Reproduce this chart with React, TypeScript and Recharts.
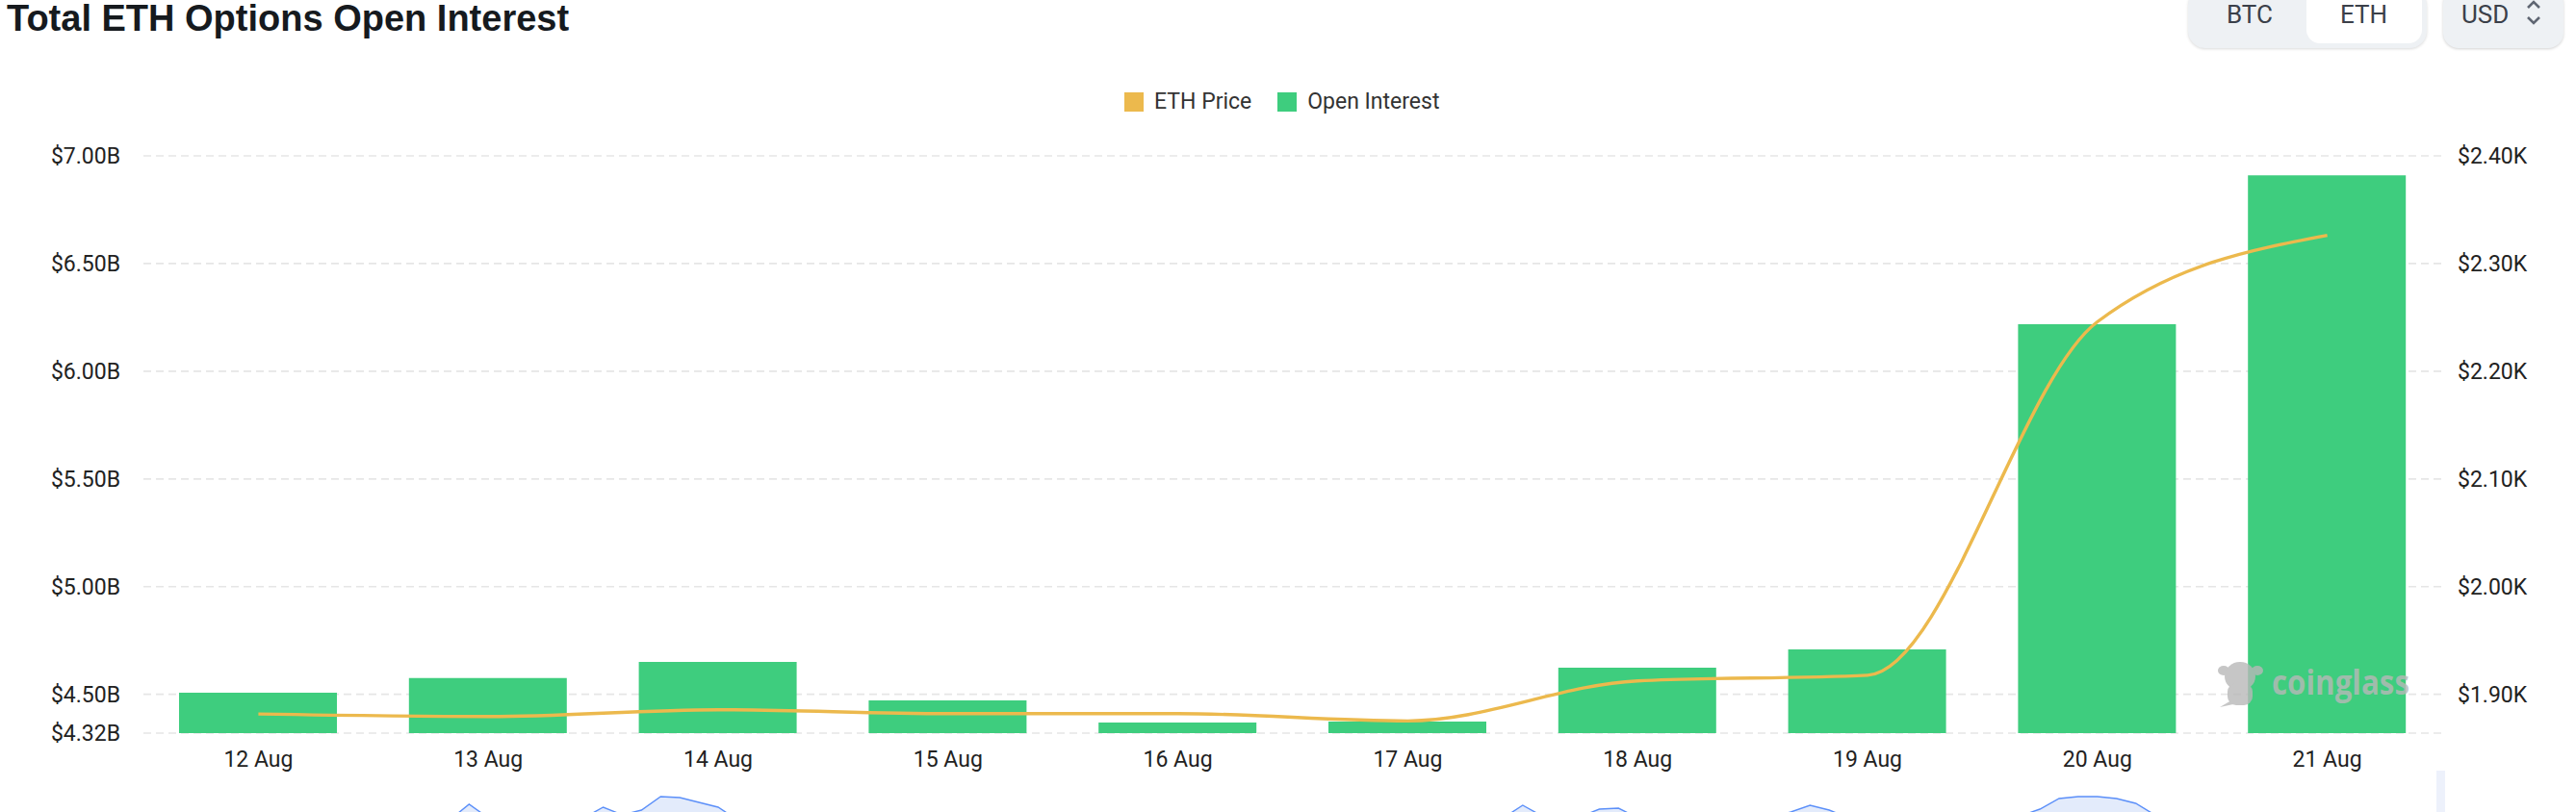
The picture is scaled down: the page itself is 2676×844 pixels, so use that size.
import { ComposedChart, Bar, Line, XAxis, YAxis, CartesianGrid, AreaChart, Area } from 'recharts';

const days = ['12 Aug', '13 Aug', '14 Aug', '15 Aug', '16 Aug', '17 Aug', '18 Aug', '19 Aug', '20 Aug', '21 Aug'];
const openInterest = [4.508, 4.576, 4.65, 4.472, 4.369, 4.374, 4.624, 4.709, 6.218, 6.91];
const ethPrice = [1882, 1879.7, 1886, 1882.4, 1882.4, 1875.6, 1912.8, 1918, 2246, 2326.2];
const oiTicks = [4.32, 4.5, 5, 5.5, 6, 6.5, 7];
const priceTicks = [1900, 2000, 2100, 2200, 2300, 2400];

// overview slider thumbnail at the bottom, only the peaks are in view
const sliderPrice = [
  22, 24, 21, 25, 27, 23, 20, 22, 26, 28, 24, 22, 25, 27, 29, 26,
  28, 44, 30, 27, 25, 28, 31, 30, 41, 33, 38, 52, 51, 46, 41, 28, 26, 24,
  22, 20, 18, 21, 23, 19, 17, 16, 18, 20, 22, 19, 17, 15, 16, 18, 21, 23, 20, 18,
  17, 19, 22, 24, 21, 19, 20, 23, 25, 22, 24, 26, 28, 25, 27, 29,
  31, 30, 43, 32, 29, 31, 39, 40, 30, 27, 25, 27, 29, 26, 28, 31, 36, 43, 38, 30,
  28, 26, 24, 25, 27, 29, 28, 31, 32, 39, 50, 52, 52, 50, 45, 33, 27,
  25, 23, 24, 22, 20, 21, 19, 18, 20, 22, 21, 19, 18, 20,
];

const chartData = days.map((day, i) => ({ day, oi: openInterest[i], price: ethPrice[i] }));
const sliderData = sliderPrice.map((v, i) => ({ i, v }));

const GREEN = '#3ecd7e';
const GOLD = '#ecb94d';
const FONT = 'Roboto, sans-serif';
const tick = { fontSize: 23, fill: '#222', fontFamily: FONT };

function Toggles() {
  const text = { position: 'absolute' as const, top: 0, lineHeight: '30px', fontSize: 26, fontFamily: FONT, color: '#3b4049' };
  return (
    <>
      <div style={{ position: 'absolute', left: 2273, top: -12, width: 248, height: 62, background: '#eef1f4', borderRadius: 18, boxShadow: '0 1px 3px rgba(0,0,0,0.15)' }}>
        <div style={{ position: 'absolute', left: 123, top: 0, width: 120, height: 57, background: '#fff', borderRadius: 14 }} />
      </div>
      <span style={{ ...text, left: 2313 }}>BTC</span>
      <span style={{ ...text, left: 2431 }}>ETH</span>
      <div style={{ position: 'absolute', left: 2538, top: -12, width: 125, height: 62, background: '#eef1f4', borderRadius: 16, boxShadow: '0 1px 3px rgba(0,0,0,0.18)' }} />
      <span style={{ ...text, left: 2557 }}>USD</span>
      <svg style={{ position: 'absolute', left: 2622, top: 0 }} width={20} height={30}>
        <polyline points="4,8 10,2 16,8" fill="none" stroke="#5f6672" strokeWidth={2.6} />
        <polyline points="4,18 10,24 16,18" fill="none" stroke="#5f6672" strokeWidth={2.6} />
      </svg>
    </>
  );
}

function ChartLegend() {
  const items = [
    { name: 'ETH Price', color: GOLD },
    { name: 'Open Interest', color: GREEN },
  ];
  return (
    <div style={{ position: 'absolute', left: 1168, top: 92, display: 'flex', alignItems: 'center', fontFamily: FONT, fontSize: 23, color: '#333' }}>
      {items.map((it) => (
        <div key={it.name} style={{ display: 'flex', alignItems: 'center', marginRight: 27 }}>
          <span style={{ width: 20, height: 20, background: it.color, marginRight: 11 }} />
          <span>{it.name}</span>
        </div>
      ))}
    </div>
  );
}

function Watermark() {
  const c = '#b8b8b8';
  return (
    <svg style={{ position: 'absolute', left: 0, top: 0, pointerEvents: 'none' }} width={2676} height={844}>
      <g fill={c} opacity={0.8}>
        <ellipse cx={2310} cy={697} rx={6} ry={5} />
        <ellipse cx={2345} cy={697} rx={6} ry={5} />
        <ellipse cx={2327} cy={703} rx={16} ry={15} />
        <rect x={2314} y={710} width={26} height={23} rx={9} />
        <path d="M2306 735 L2318 728 L2320 732 Z" />
        <text x={2360} y={722} fontSize={36} fontWeight={700} fontFamily="'Open Sans', sans-serif" textLength={143} lengthAdjust="spacingAndGlyphs">
          coinglass
        </text>
      </g>
    </svg>
  );
}

export default function App() {
  return (
    <div style={{ position: 'relative', width: 2676, height: 844, overflow: 'hidden', background: '#fff' }}>
      <style>{'body{margin:0}'}</style>
      <div style={{ position: 'absolute', left: 7, top: -3, fontFamily: "'Liberation Sans', Arial, sans-serif", fontWeight: 700, fontSize: 38, color: '#161a1e', lineHeight: '44px', whiteSpace: 'nowrap' }}>
        Total ETH Options Open Interest
      </div>
      <Toggles />
      <ChartLegend />

      <div style={{ position: 'absolute', left: 0, top: 0 }}>
        <ComposedChart width={2676} height={844} data={chartData} margin={{ top: 162, right: 0, bottom: 22, left: 0 }}>
          <CartesianGrid yAxisId="oi" vertical={false} stroke="#e6e6e6" strokeDasharray="8 5" strokeWidth={1.7} />
          <XAxis dataKey="day" height={60} axisLine={false} tickLine={false} tickSize={0} tickMargin={19} tick={tick} interval={0} />
          <YAxis
            yAxisId="oi"
            orientation="left"
            width={149}
            domain={[4.32, 7]}
            ticks={oiTicks}
            allowDataOverflow
            axisLine={false}
            tickLine={false}
            tickSize={0}
            tickMargin={24}
            tick={tick}
            tickFormatter={(v: number) => `$${v.toFixed(2)}B`}
          />
          <YAxis
            yAxisId="price"
            orientation="right"
            width={139}
            domain={[1864.3, 2400]}
            ticks={priceTicks}
            allowDataOverflow
            axisLine={false}
            tickLine={false}
            tickSize={0}
            tickMargin={16}
            tick={tick}
            tickFormatter={(v: number) => `$${(v / 1000).toFixed(2)}K`}
          />
          <Bar yAxisId="oi" dataKey="oi" name="Open Interest" fill={GREEN} barSize={164} isAnimationActive={false} />
          <Line
            yAxisId="price"
            dataKey="price"
            name="ETH Price"
            type="monotone"
            stroke={GOLD}
            strokeWidth={3.4}
            dot={false}
            activeDot={false}
            isAnimationActive={false}
          />
        </ComposedChart>
      </div>

      <Watermark />

      <div style={{ position: 'absolute', left: 149, top: 800 }}>
        <AreaChart width={2388} height={80} data={sliderData} margin={{ top: 0, right: 0, bottom: 0, left: 0 }}>
          <XAxis dataKey="i" type="number" domain={[0, sliderPrice.length - 1]} hide />
          <YAxis domain={[0, 80]} hide />
          <Area type="linear" dataKey="v" stroke="#5b8ff9" strokeWidth={1.4} fill="#e3ebfb" fillOpacity={1} isAnimationActive={false} />
        </AreaChart>
      </div>
      <div style={{ position: 'absolute', left: 2531, top: 801, width: 9, height: 50, background: '#edf1fb' }} />
    </div>
  );
}
